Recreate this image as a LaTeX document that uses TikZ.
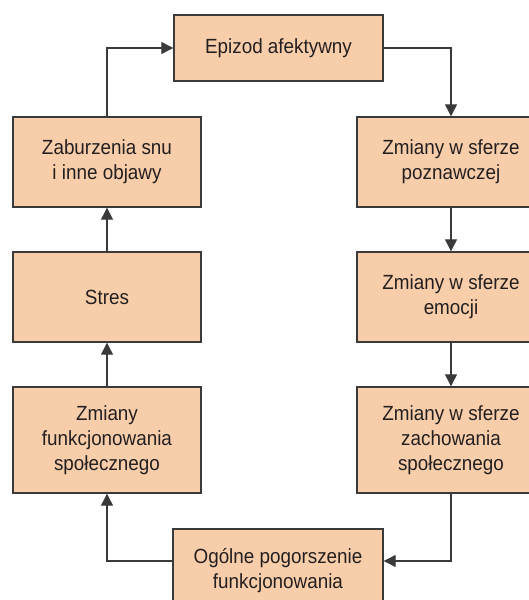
\documentclass[tikz,border=0pt]{standalone}
\usepackage{fontspec}
\setmainfont{Liberation Sans}[FakeStretch=0.92]
\usepackage{tikz}
\usetikzlibrary{arrows.meta}

\definecolor{boxfill}{RGB}{248,206,170}
\definecolor{boxline}{RGB}{58,58,58}
\definecolor{inkcol}{RGB}{35,31,32}

\begin{document}
\begin{tikzpicture}[x=1pt,y=-1pt,
  box/.style={shape=rectangle,draw=boxline,fill=boxfill,line width=1.4pt,
    minimum width=188pt,minimum height=90pt,inner sep=0pt,
    align=center,text=inkcol,font=\fontsize{20.5}{25}\selectfont},
  arr/.style={draw=boxline,line width=1.2pt,-{Triangle[width=12pt,length=12pt]}}]
\path[use as bounding box,clip] (0,0) rectangle (529,600);
\node[box,minimum width=209pt,minimum height=66pt] (epizod) at (278.5,48) {Epizod afektywny};
\node[box] (zaburzenia) at (107,162) {Zaburzenia snu\\i inne objawy};
\node[box] (stres) at (107,297) {Stres};
\node[box,minimum height=106pt] (funkcj) at (107,440) {Zmiany\\funkcjonowania\\społecznego};
\node[box] (poznawcza) at (451,162) {Zmiany w sferze\\poznawczej};
\node[box] (emocje) at (451,297) {Zmiany w sferze\\emocji};
\node[box,minimum height=106pt] (zachowania) at (451,440) {Zmiany w sferze\\zachowania\\społecznego};
\node[box,minimum width=210pt,minimum height=84pt] (ogolne) at (278,571) {Ogólne pogorszenie\\funkcjonowania};
\path [arr] (zaburzenia.north) |- (epizod.west);
\path [arr] (epizod.east) -| (poznawcza.north);
\path [arr] (poznawcza.south) -- (emocje.north);
\path [arr] (emocje.south) -- (zachowania.north);
\path [arr] (zachowania.south) |- ([yshift=10pt]ogolne.east);
\path [arr] ([yshift=10pt]ogolne.west) -| (funkcj.south);
\path [arr] (funkcj.north) -- (stres.south);
\path [arr] (stres.north) -- (zaburzenia.south);
\end{tikzpicture}
\end{document}
